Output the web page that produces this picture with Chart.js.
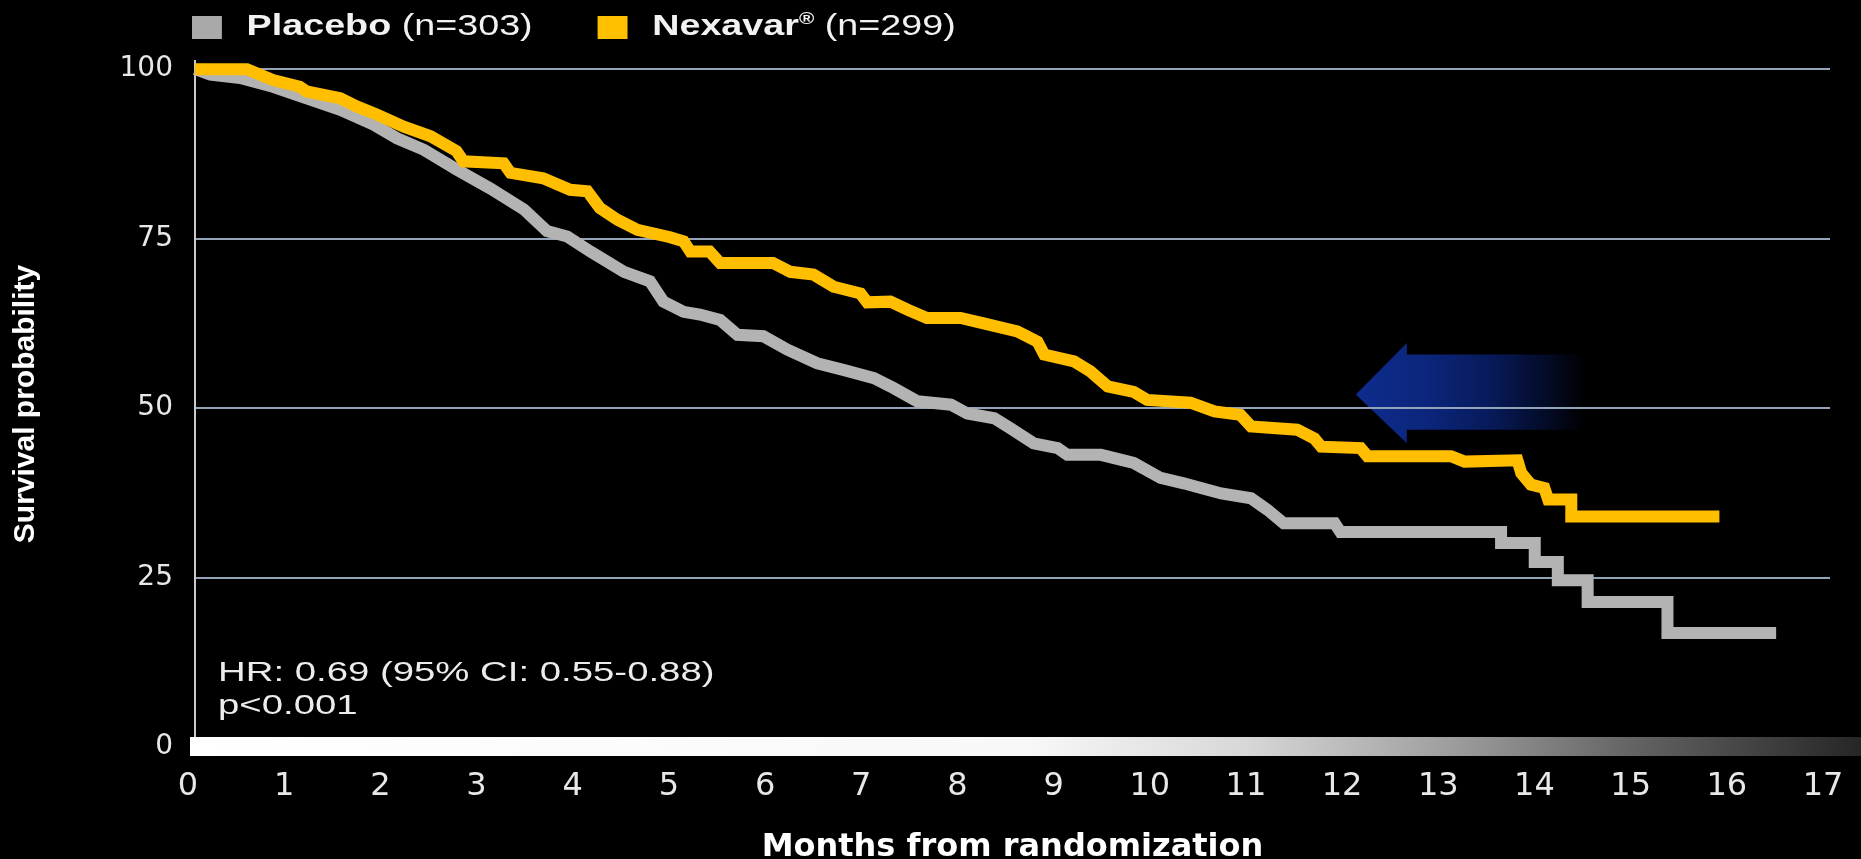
<!DOCTYPE html>
<html lang="en">
<head>
<meta charset="UTF-8" />
<title>Overall survival - Nexavar vs placebo</title>
<style>
  html, body { margin: 0; background: #000; }
  #wrap { position: relative; width: 1861px; height: 859px; background: #000; overflow: hidden; }
  #legend {
    position: absolute; left: 192px; top: 11px; width: 700px; height: 40px;
    font: 29px/29px "Liberation Sans", Arial, sans-serif; color: #f2f2f2;
    transform: scaleX(1.3); transform-origin: 0 0; white-space: nowrap;
  }
  .item { position: absolute; top: 0; display: flex; align-items: flex-start; }
  .sw { width: 23px; height: 23px; margin-top: 5px; margin-right: 19px; }
  .item b { font-weight: bold; }
  .item sup { font-size: 16px; line-height: 0; vertical-align: 11px; }
  #note {
    position: absolute; left: 218px; top: 656px;
    font: 27px/33px "Liberation Sans", Arial, sans-serif; color: #ececec;
    transform: scaleX(1.42); transform-origin: 0 0; white-space: nowrap;
  }
</style>
</head>
<body>
<div id="wrap">
  <canvas id="myChart"></canvas>
  <div id="legend">
    <div class="item" style="left:0px"><span class="sw" style="background:#a9a9a9"></span><span><b>Placebo</b> (n=303)</span></div>
    <div class="item" style="left:312px"><span class="sw" style="background:#ffc000"></span><span><b>Nexavar<sup>®</sup></b> (n=299)</span></div>
  </div>
  <div id="note">HR: 0.69 (95% CI: 0.55-0.88)<br>p&lt;0.001</div>
</div>

<script src="https://cdn.jsdelivr.net/npm/chart.js"></script>
<script>
// months / survival %
const placeboTime = [0, 0.16, 0.47, 0.81, 1.16, 1.51, 1.86, 2.10, 2.38, 2.72, 3.07, 3.42, 3.66, 3.87, 4.11, 4.46, 4.73, 4.87, 5.08, 5.25, 5.46, 5.64, 5.91, 6.16, 6.47, 6.75, 7.06, 7.27, 7.51, 7.86, 8.03, 8.31, 8.48, 8.72, 8.97, 9.07, 9.42, 9.76, 10.04, 10.28, 10.46, 10.67, 10.98, 11.15, 11.32, 11.85, 11.91, 13.58, 13.58, 13.93, 13.93, 14.17, 14.17, 14.48, 14.48, 15.31, 15.31, 16.44];
const placeboSurv = [100, 99.2, 98.7, 97.4, 95.7, 94.0, 91.8, 89.8, 88.1, 85.2, 82.4, 79.3, 76.1, 75.3, 73.1, 70.1, 68.7, 65.7, 64.2, 63.8, 63.0, 60.8, 60.6, 58.6, 56.6, 55.6, 54.4, 52.9, 51.0, 50.5, 49.2, 48.5, 47.0, 44.8, 44.1, 43.1, 43.1, 41.9, 39.7, 38.9, 38.2, 37.4, 36.7, 35.0, 33.0, 33.0, 31.7, 31.7, 30.1, 30.1, 27.3, 27.3, 24.6, 24.6, 21.4, 21.4, 16.8, 16.8];

const nexavarTime = [0, 0.54, 0.81, 1.09, 1.16, 1.51, 1.68, 1.89, 2.17, 2.45, 2.72, 2.79, 3.21, 3.28, 3.62, 3.90, 4.08, 4.21, 4.39, 4.60, 4.94, 5.08, 5.15, 5.35, 5.46, 6.01, 6.19, 6.43, 6.64, 6.92, 6.99, 7.23, 7.41, 7.61, 7.96, 8.20, 8.55, 8.76, 8.83, 9.14, 9.31, 9.49, 9.76, 9.90, 10.35, 10.60, 10.87, 10.98, 11.46, 11.64, 11.71, 12.12, 12.19, 13.06, 13.20, 13.75, 13.79, 13.89, 14.03, 14.07, 14.31, 14.31, 15.85];
const nexavarSurv = [100, 100, 98.4, 97.4, 96.7, 95.7, 94.5, 93.3, 91.5, 90.1, 87.9, 86.4, 86.1, 84.7, 83.9, 82.2, 82.0, 79.5, 77.8, 76.3, 75.2, 74.6, 73.1, 73.1, 71.4, 71.4, 70.1, 69.7, 67.9, 66.9, 65.6, 65.7, 64.5, 63.3, 63.3, 62.5, 61.3, 59.8, 57.9, 56.9, 55.4, 53.2, 52.4, 51.2, 50.8, 49.5, 49.0, 47.3, 46.8, 45.5, 44.3, 44.1, 42.9, 42.9, 42.1, 42.3, 40.4, 38.7, 38.2, 36.5, 36.5, 34.0, 34.0];

const xTicks = [0, 1, 2, 3, 4, 5, 6, 7, 8, 9, 10, 11, 12, 13, 14, 15, 16, 17];
const yTicks = [0, 25, 50, 75, 100];

// blue arrow, in data units
const arrow = { tipX: 12.07, tipY: 52, headX: 12.6, tailX: 14.45, headTop: 59.6, headBottom: 44.8, shaftTop: 57.9, shaftBottom: 46.8 };

function toPoints(t, s) {
  return t.map((v, i) => ({ x: v, y: s[i] }));
}

// arrow goes under the grid lines
const arrowPlugin = {
  id: 'arrow',
  beforeDraw(chart) {
    const { ctx, scales: { x, y } } = chart;
    const px = v => x.getPixelForValue(v);
    const py = v => y.getPixelForValue(v);
    ctx.save();
    const g = ctx.createLinearGradient(px(arrow.tipX), 0, px(arrow.tailX), 0);
    g.addColorStop(0, 'rgb(14,44,142)');
    g.addColorStop(0.3, 'rgb(11,38,124)');
    g.addColorStop(0.6, 'rgb(7,25,88)');
    g.addColorStop(0.85, 'rgb(3,10,35)');
    g.addColorStop(1, 'rgb(0,0,0)');
    ctx.fillStyle = g;
    ctx.beginPath();
    ctx.moveTo(px(arrow.tipX), py(arrow.tipY));
    ctx.lineTo(px(arrow.headX), py(arrow.headTop));
    ctx.lineTo(px(arrow.headX), py(arrow.shaftTop));
    ctx.lineTo(px(arrow.tailX), py(arrow.shaftTop));
    ctx.lineTo(px(arrow.tailX), py(arrow.shaftBottom));
    ctx.lineTo(px(arrow.headX), py(arrow.shaftBottom));
    ctx.lineTo(px(arrow.headX), py(arrow.headBottom));
    ctx.closePath();
    ctx.fill();
    ctx.restore();
  }
};

// thick fading bar along the time axis
const axisBar = {
  id: 'axisBar',
  afterDraw(chart) {
    const { ctx, chartArea, scales: { y } } = chart;
    const y0 = y.getPixelForValue(0);
    const x1 = chartArea.left - 5;
    const x2 = chart.width;
    const g = ctx.createLinearGradient(x1, 0, x2, 0);
    g.addColorStop(0, '#ffffff');
    g.addColorStop(0.5, '#f8f8f8');
    g.addColorStop(0.63, '#d8d8d8');
    g.addColorStop(0.75, '#a0a0a0');
    g.addColorStop(0.87, '#606060');
    g.addColorStop(1, '#262626');
    ctx.save();
    ctx.fillStyle = g;
    ctx.fillRect(x1, y0 - 10, x2 - x1, 19);
    ctx.restore();
  }
};

const ctx = document.getElementById('myChart').getContext('2d');
const myChart = new Chart(ctx, {
  type: 'line',
  data: {
    datasets: [
      {
        label: 'Placebo (n=303)',
        data: toPoints(placeboTime, placeboSurv),
        borderColor: '#b3b3b3',
        order: 1
      },
      {
        label: 'Nexavar® (n=299)',
        data: toPoints(nexavarTime, nexavarSurv),
        borderColor: '#ffbe00',
        order: 0
      }
    ]
  },
  options: {
    responsive: true,
    maintainAspectRatio: false,
    animation: false,
    devicePixelRatio: 1,
    layout: { padding: { top: 61, right: 31, bottom: 0, left: 0 } },
    elements: {
      line: { borderWidth: 12, tension: 0, fill: false, borderJoinStyle: 'miter', borderCapStyle: 'butt' },
      point: { radius: 0, hoverRadius: 0 }
    },
    datasets: { line: { clip: false } },
    plugins: {
      legend: { display: false },
      tooltip: { enabled: false }
    },
    scales: {
      x: {
        type: 'linear',
        min: 0,
        max: 17,
        afterBuildTicks: s => { s.ticks = xTicks.map(v => ({ value: v })); },
        afterFit: s => { s.height = 112; s.paddingLeft = 0; s.paddingRight = 0; },
        grid: { display: false, drawTicks: false },
        border: { display: false },
        ticks: {
          color: '#e8e8e8',
          font: { family: 'DejaVu Sans', size: 32 },
          padding: 20,
          labelOffset: -7,
          maxRotation: 0,
          autoSkip: false
        },
        title: {
          display: true,
          text: 'Months from randomization',
          color: '#ffffff',
          font: { family: 'DejaVu Sans', size: 32, weight: 'bold' },
          padding: { top: 0, bottom: -8 }
        }
      },
      y: {
        min: 0,
        max: 101.2,
        afterBuildTicks: s => { s.ticks = yTicks.map(v => ({ value: v })); },
        afterFit: s => { s.width = 195; s.paddingTop = 0; s.paddingBottom = 0; },
        grid: {
          color: c => (c.tick && c.tick.value === 0) ? 'rgba(0,0,0,0)' : '#93a3b8',
          lineWidth: 2,
          drawTicks: false
        },
        border: { display: true, color: '#c9c9c9', width: 2 },
        ticks: {
          color: '#e8e8e8',
          font: { family: 'DejaVu Sans', size: 28 },
          padding: 22
        },
        title: {
          display: true,
          text: 'Survival probability',
          color: '#ffffff',
          font: { family: 'Liberation Sans', size: 30, weight: 'bold' },
          padding: { top: 8, bottom: 0 }
        }
      }
    }
  },
  plugins: [arrowPlugin, axisBar]
});
</script>
</body>
</html>
